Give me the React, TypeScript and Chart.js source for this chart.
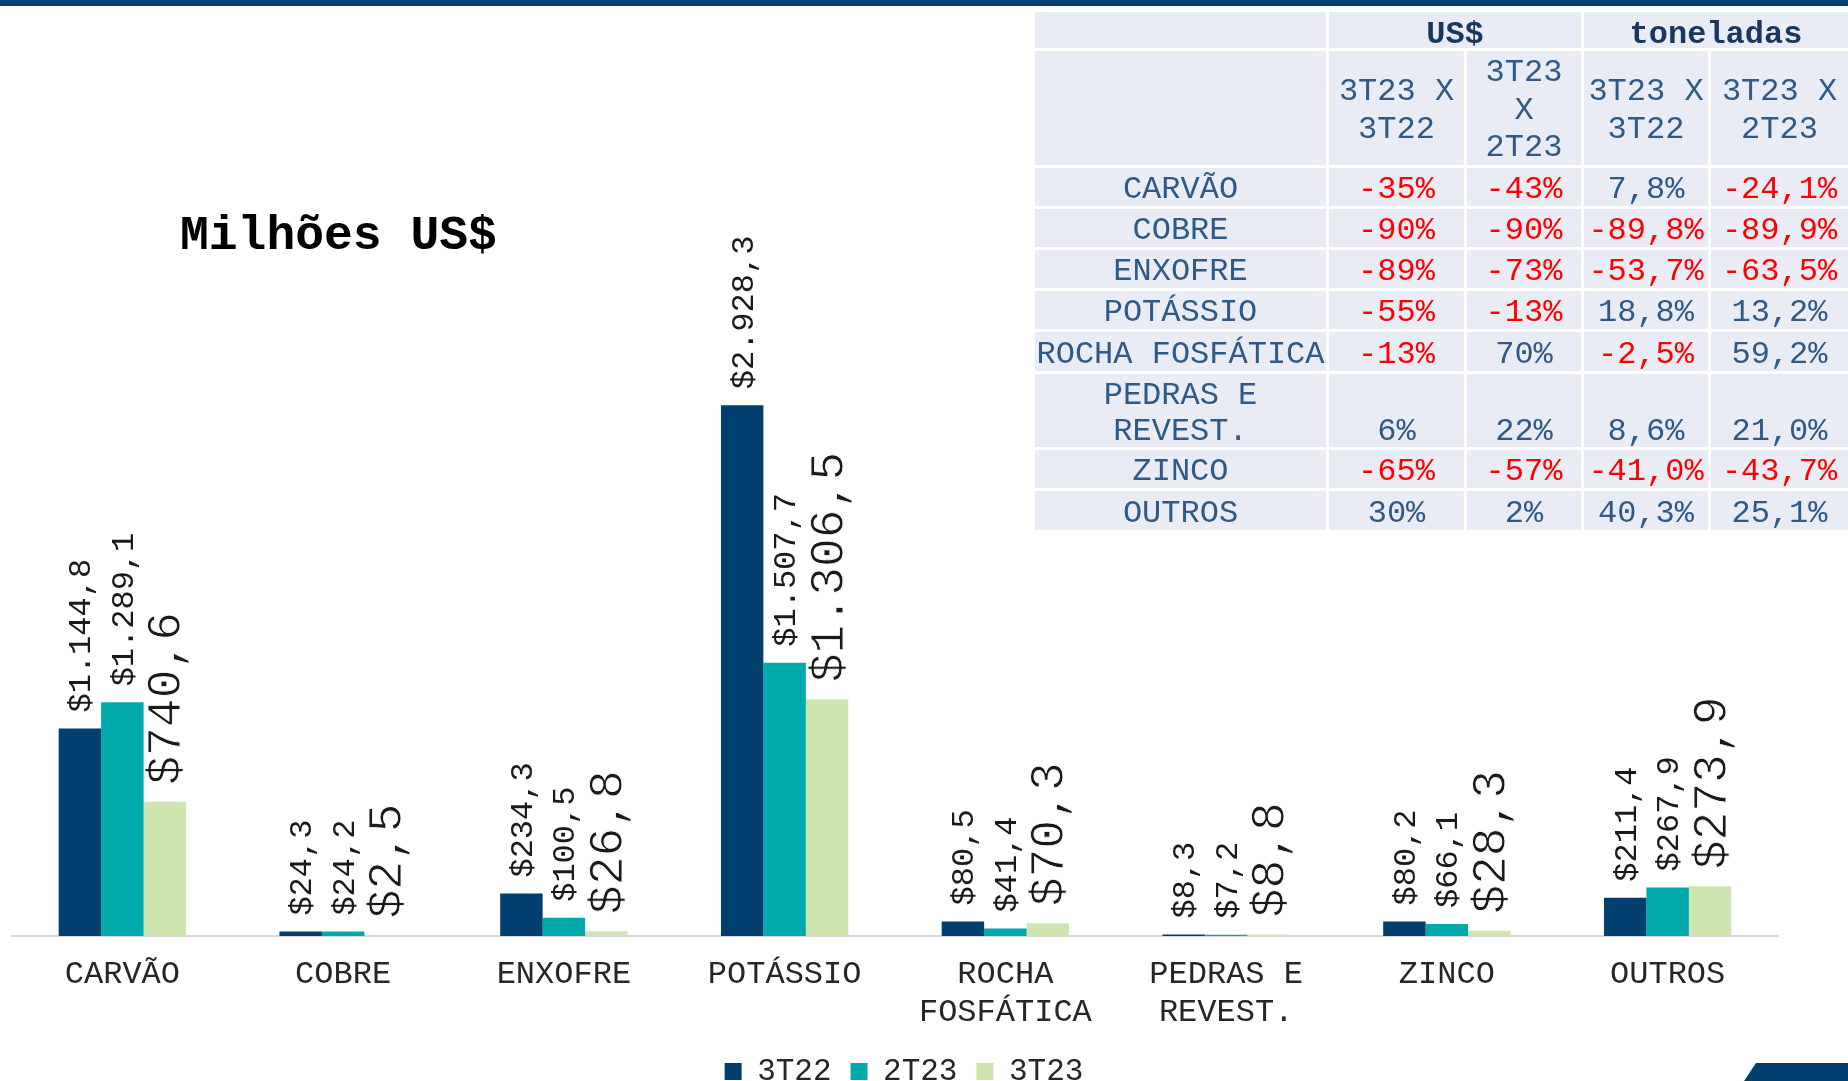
import React, { useEffect, useRef } from 'react';
import { Chart, registerables } from 'chart.js';

Chart.register(...registerables);

const FONT = "'Liberation Mono', 'DejaVu Sans Mono', monospace";

// ---- chart data ----
const categories = [
  ['CARVÃO'],
  ['COBRE'],
  ['ENXOFRE'],
  ['POTÁSSIO'],
  ['ROCHA', 'FOSFÁTICA'],
  ['PEDRAS E', 'REVEST.'],
  ['ZINCO'],
  ['OUTROS'],
];
const seriesNames = ['3T22', '2T23', '3T23'];
const values3T22 = [1144.8, 24.3, 234.3, 2928.3, 80.5, 8.3, 80.2, 211.4];
const values2T23 = [1289.1, 24.2, 100.5, 1507.7, 41.4, 7.2, 66.1, 267.9];
const values3T23 = [740.6, 2.5, 26.8, 1306.5, 70.3, 8.8, 28.3, 273.9];
const seriesColors = ['#003f6e', '#00a9ac', '#cfe5b0'];
const yMax = 4000;

// ---- table data ----
const tableRowNames = [
  'CARVÃO',
  'COBRE',
  'ENXOFRE',
  'POTÁSSIO',
  'ROCHA FOSFÁTICA',
  'PEDRAS E\nREVEST.',
  'ZINCO',
  'OUTROS',
];
const usdVs3T22 = ['-35%', '-90%', '-89%', '-55%', '-13%', '6%', '-65%', '30%'];
const usdVs2T23 = ['-43%', '-90%', '-73%', '-13%', '70%', '22%', '-57%', '2%'];
const tonVs3T22 = ['7,8%', '-89,8%', '-53,7%', '18,8%', '-2,5%', '8,6%', '-41,0%', '40,3%'];
const tonVs2T23 = ['-24,1%', '-89,9%', '-63,5%', '13,2%', '59,2%', '21,0%', '-43,7%', '25,1%'];

function fmt(v: number): string {
  const [intPart, dec] = v.toFixed(1).split('.');
  const withDots = intPart.replace(/\B(?=(\d{3})+(?!\d))/g, '.');
  return '$' + withDots + ',' + dec;
}

const valueLabelPlugin = {
  id: 'valueLabels',
  afterLayout(chart: any) {
    if (chart.legend) {
      chart.legend.left += 9;
      chart.legend.right += 9;
    }
  },
  afterDatasetsDraw(chart: any) {
    const ctx = chart.ctx;
    chart.data.datasets.forEach((ds: any, di: number) => {
      const meta = chart.getDatasetMeta(di);
      const size = di === 2 ? 48 : 32;
      const gap = di === 2 ? 17 : 16;
      meta.data.forEach((bar: any, i: number) => {
        const v = ds.data[i];
        ctx.save();
        ctx.translate(bar.x + size * 0.06, bar.y - gap);
        ctx.rotate(-Math.PI / 2);
        ctx.font = `${size}px ${FONT}`;
        ctx.fillStyle = '#1a1a1a';
        ctx.textAlign = 'left';
        ctx.textBaseline = 'middle';
        ctx.fillText(fmt(v), 0, 0);
        if (di === 2) {
          ctx.strokeStyle = '#ffffff';
          ctx.lineWidth = 0.8;
          ctx.lineJoin = 'round';
          ctx.strokeText(fmt(v), 0, 0);
        }
        ctx.restore();
      });
    });
  },
};

const BG = '#e9ebf5';
const TXT = '#2e5a87';
const HEAD = '#17375e';
const RED = '#ff0000';

function cellColor(s: string) {
  return s.trim().startsWith('-') ? RED : TXT;
}

export default function App() {
  const canvasRef = useRef<HTMLCanvasElement | null>(null);

  useEffect(() => {
    document.body.style.margin = '0';
    document.body.style.overflow = 'hidden';
    const canvas = canvasRef.current;
    if (!canvas) return;
    const allValues = [values3T22, values2T23, values3T23];
    const chart = new Chart(canvas, {
      type: 'bar',
      data: {
        labels: categories as any,
        datasets: seriesNames.map((name, i) => ({
          label: name,
          data: allValues[i],
          backgroundColor: seriesColors[i],
          borderWidth: 0,
          barPercentage: 1,
          categoryPercentage: 0.577,
        })),
      },
      options: {
        responsive: false,
        animation: false,
        layout: { padding: { left: 12, right: 70, top: 211, bottom: 0 } },
        plugins: {
          legend: {
            position: 'bottom',
            labels: {
              font: { family: FONT, size: 31 },
              color: '#262626',
              boxWidth: 17,
              boxHeight: 17,
              padding: 19,
            },
          },
          tooltip: { enabled: false },
          title: { display: false },
        },
        scales: {
          x: {
            grid: { display: false, drawTicks: false },
            border: { display: true, color: '#d9d9d9', width: 2 },
            ticks: {
              font: { family: FONT, size: 32, lineHeight: 1.178 },
              color: '#262626',
              padding: 19.5,
              maxRotation: 0,
              autoSkip: false,
            },
            afterFit: (s: any) => {
              s.height = 101;
            },
          },
          y: { display: false, min: 0, max: yMax },
        },
      },
      plugins: [valueLabelPlugin],
    } as any);
    return () => chart.destroy();
  }, []);

  const colW = [291, 135, 114, 124, 137];
  const rowH = [36, 114, 38, 38, 38, 38, 39, 73, 38, 39];

  const cellBase: React.CSSProperties = {
    background: BG,
    display: 'flex',
    justifyContent: 'center',
    textAlign: 'center',
    fontFamily: FONT,
    fontSize: 32,
    whiteSpace: 'pre-line',
    overflow: 'visible',
  };

  const bodyCols = [usdVs3T22, usdVs2T23, tonVs3T22, tonVs2T23];
  const shift = (px: number): React.CSSProperties => ({ position: 'relative', top: px });

  return (
    <div
      style={{
        position: 'absolute',
        left: 0,
        top: 0,
        width: 1848,
        height: 1081,
        overflow: 'hidden',
        background: '#ffffff',
      }}
    >
      <canvas
        ref={canvasRef}
        width={1848}
        height={1097}
        style={{ position: 'absolute', left: 0, top: 0, display: 'block' }}
      />
      <div style={{ position: 'absolute', left: 0, top: 0, width: 1848, height: 6, background: '#003f6e' }} />
      <div
        style={{
          position: 'absolute',
          left: 180,
          top: 212,
          fontFamily: FONT,
          fontWeight: 'bold',
          fontSize: 48,
          lineHeight: '48px',
          color: '#000',
          whiteSpace: 'nowrap',
        }}
      >
        Milhões US$
      </div>
      <div
        style={{
          position: 'absolute',
          left: 1035,
          top: 12,
          display: 'grid',
          gridTemplateColumns: colW.map((w) => w + 'px').join(' '),
          gridTemplateRows: rowH.map((h) => h + 'px').join(' '),
          gap: 3,
        }}
      >
        <div style={{ ...cellBase }} />
        <div
          style={{
            ...cellBase,
            gridColumn: 'span 2',
            alignItems: 'center',
            fontWeight: 'bold',
            color: HEAD,
            lineHeight: '36px',
          }}
        >
          <span style={shift(5)}>US$</span>
        </div>
        <div
          style={{
            ...cellBase,
            gridColumn: 'span 2',
            alignItems: 'center',
            fontWeight: 'bold',
            color: HEAD,
            lineHeight: '36px',
          }}
        >
          <span style={shift(5)}>toneladas</span>
        </div>
        <div style={{ ...cellBase }} />
        {['3T23 X\n3T22', '3T23\nX\n2T23', '3T23 X\n3T22', '3T23 X\n2T23'].map((h, i) => (
          <div key={'h' + i} style={{ ...cellBase, alignItems: 'center', color: TXT, lineHeight: '37.7px' }}>
            <span style={shift(2.5)}>{h}</span>
          </div>
        ))}
        {tableRowNames.map((name, r) => (
          <React.Fragment key={'r' + r}>
            <div
              style={{
                ...cellBase,
                alignItems: 'flex-end',
                color: TXT,
                lineHeight: r === 5 ? '36.5px' : '38px',
                whiteSpace: 'pre',
              }}
            >
              <span style={shift(r === 5 ? 3.5 : 2.5)}>{name}</span>
            </div>
            {bodyCols.map((col, c) => (
              <div
                key={'c' + c}
                style={{
                  ...cellBase,
                  alignItems: 'flex-end',
                  color: cellColor(col[r]),
                  lineHeight: r === 5 ? '36.5px' : '38px',
                }}
              >
                <span style={shift(r === 5 ? 3.5 : 2.5)}>{col[r]}</span>
              </div>
            ))}
          </React.Fragment>
        ))}
      </div>
      <div
        style={{
          position: 'absolute',
          left: 1744,
          top: 1063,
          width: 104,
          height: 18,
          background: '#003f6e',
          clipPath: 'polygon(12px 0, 100% 0, 100% 100%, 0 100%)',
        }}
      />
    </div>
  );
}
